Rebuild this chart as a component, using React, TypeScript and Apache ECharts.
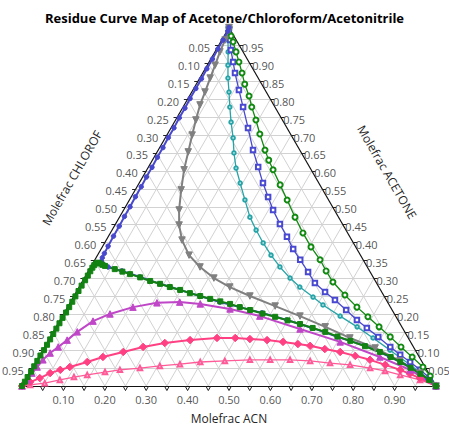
import React, { useEffect, useRef } from "react";
import * as echarts from "echarts";

// ---- tick values ----
const STEP_VALUES = [0.05, 0.1, 0.15, 0.2, 0.25, 0.3, 0.35, 0.4, 0.45, 0.5, 0.55, 0.6, 0.65, 0.7, 0.75, 0.8, 0.85, 0.9, 0.95];
const BOTTOM_LABELS = [0.1, 0.2, 0.3, 0.4, 0.5, 0.6, 0.7, 0.8, 0.9];
const LEFT_LABELS = STEP_VALUES; // chloroform
const RIGHT_LABELS = STEP_VALUES; // acetone

// ---- residue curves: [x ACN, x ACETONE] (chloroform = 1 - both) ----
const blueEdge = [
  [0.0, 1.0], [0.002, 0.99], [0.003, 0.965], [0.003, 0.94], [0.004, 0.912], [0.004, 0.885], [0.005, 0.857], [0.005, 0.83],
  [0.005, 0.802], [0.006, 0.775], [0.006, 0.748], [0.007, 0.72], [0.007, 0.693], [0.008, 0.665], [0.008, 0.638],
  [0.009, 0.61], [0.009, 0.583], [0.01, 0.556], [0.01, 0.528], [0.011, 0.5], [0.011, 0.473], [0.012, 0.446],
  [0.012, 0.418], [0.013, 0.39], [0.014, 0.37], [0.015, 0.358], [0.018, 0.348], [0.025, 0.34], [0.033, 0.336],
];
const blueSeparatrix = [
  [0.042, 0.332], [0.081, 0.321], [0.133, 0.304], [0.191, 0.285], [0.248, 0.268], [0.304, 0.251], [0.361, 0.234],
  [0.416, 0.22], [0.478, 0.204], [0.548, 0.184], [0.62, 0.162], [0.693, 0.137], [0.773, 0.112], [0.848, 0.081],
  [0.911, 0.053], [0.971, 0.0195], [1.0, 0.0],
];
const greenEdge = [
  [0.0, 0.0], [0.001, 0.012], [0.001, 0.025], [0.002, 0.04], [0.002, 0.055], [0.002, 0.07], [0.002, 0.085], [0.003, 0.1],
  [0.003, 0.115], [0.003, 0.13], [0.003, 0.145], [0.003, 0.16], [0.003, 0.175], [0.003, 0.19], [0.004, 0.205],
  [0.004, 0.22], [0.004, 0.235], [0.004, 0.25], [0.004, 0.265], [0.004, 0.28], [0.005, 0.295], [0.005, 0.308],
  [0.005, 0.32], [0.005, 0.33], [0.006, 0.337], [0.008, 0.342], [0.012, 0.344], [0.018, 0.342], [0.025, 0.338],
];
const greenSeparatrix = [
  [0.033, 0.335], [0.061, 0.326], [0.083, 0.319], [0.105, 0.312], [0.134, 0.303], [0.163, 0.293], [0.191, 0.285],
  [0.219, 0.276], [0.248, 0.268], [0.276, 0.259], [0.305, 0.251], [0.333, 0.243], [0.361, 0.236], [0.388, 0.229],
  [0.416, 0.22], [0.445, 0.212], [0.48, 0.202], [0.515, 0.193], [0.55, 0.183], [0.585, 0.173], [0.621, 0.162],
  [0.657, 0.151], [0.693, 0.138], [0.73, 0.126], [0.773, 0.111], [0.817, 0.095], [0.85, 0.081], [0.88, 0.067],
  [0.913, 0.051], [0.945, 0.034], [0.975, 0.017], [1.0, 0.0],
];
const grayCurve = [
  [0.0, 1.0], [0.004, 0.993], [0.008, 0.965], [0.012, 0.932], [0.019, 0.895], [0.025, 0.859], [0.032, 0.82],
  [0.038, 0.784], [0.049, 0.742], [0.061, 0.7], [0.075, 0.653], [0.09, 0.603], [0.111, 0.547], [0.134, 0.491],
  [0.155, 0.449], [0.183, 0.407], [0.221, 0.365], [0.264, 0.332], [0.313, 0.301], [0.364, 0.276], [0.425, 0.251],
  [0.5, 0.223], [0.574, 0.195], [0.65, 0.165], [0.725, 0.134], [0.8, 0.106], [0.878, 0.07], [0.943, 0.036], [1.0, 0.0],
];
const magentaCurve = [
  [0.0, 0.0], [0.004, 0.017], [0.006, 0.036], [0.01, 0.053], [0.014, 0.073], [0.022, 0.092], [0.033, 0.109],
  [0.045, 0.128], [0.058, 0.151], [0.081, 0.181], [0.112, 0.201], [0.158, 0.22], [0.21, 0.232], [0.264, 0.234],
  [0.316, 0.229], [0.395, 0.215], [0.477, 0.195], [0.592, 0.159], [0.707, 0.123], [0.824, 0.081], [0.915, 0.045],
  [1.0, 0.0],
];
const pinkDiamondCurve = [
  [0.0, 0.0], [0.014, 0.011], [0.032, 0.022], [0.05, 0.036], [0.07, 0.045], [0.089, 0.053], [0.124, 0.067],
  [0.155, 0.081], [0.197, 0.095], [0.238, 0.109], [0.285, 0.12], [0.342, 0.128], [0.404, 0.134], [0.448, 0.134],
  [0.485, 0.131], [0.528, 0.128], [0.569, 0.123], [0.608, 0.117], [0.64, 0.112], [0.68, 0.103], [0.721, 0.095],
  [0.763, 0.084], [0.804, 0.073], [0.848, 0.059], [0.891, 0.045], [0.92, 0.034], [0.95, 0.022], [1.0, 0.0],
];
const pinkTriangleCurve = [
  [0.0, 0.0], [0.018, 0.003], [0.051, 0.008], [0.083, 0.017], [0.113, 0.025], [0.142, 0.031], [0.181, 0.039],
  [0.214, 0.045], [0.26, 0.05], [0.305, 0.056], [0.351, 0.061], [0.397, 0.067], [0.455, 0.07], [0.514, 0.073],
  [0.563, 0.073], [0.611, 0.073], [0.661, 0.07], [0.712, 0.064], [0.763, 0.059], [0.816, 0.05], [0.856, 0.042],
  [0.898, 0.031], [0.953, 0.017], [1.0, 0.0],
];
const tealCurve = [
  [0.0, 1.0], [0.004, 0.993], [0.015, 0.965], [0.032, 0.932], [0.05, 0.895], [0.068, 0.859], [0.09, 0.82],
  [0.113, 0.778], [0.137, 0.736], [0.164, 0.692], [0.187, 0.65], [0.213, 0.608], [0.244, 0.566], [0.279, 0.519],
  [0.315, 0.471], [0.348, 0.435], [0.383, 0.399], [0.419, 0.365], [0.457, 0.332], [0.497, 0.301], [0.533, 0.276],
  [0.579, 0.248], [0.614, 0.226], [0.671, 0.195], [0.727, 0.165], [0.781, 0.134], [0.839, 0.1], [0.908, 0.059],
  [0.977, 0.017], [1.0, 0.0],
];
const blueSquareCurve = [
  [0.0, 1.0], [0.02, 0.965], [0.036, 0.937], [0.058, 0.904], [0.078, 0.873], [0.111, 0.826], [0.145, 0.778],
  [0.186, 0.72], [0.229, 0.658], [0.265, 0.611], [0.299, 0.566], [0.331, 0.527], [0.361, 0.491], [0.397, 0.452],
  [0.432, 0.416], [0.464, 0.382], [0.496, 0.352], [0.532, 0.318], [0.564, 0.287], [0.601, 0.262], [0.636, 0.24],
  [0.677, 0.212], [0.717, 0.184], [0.752, 0.162], [0.792, 0.137], [0.835, 0.109], [0.87, 0.087], [0.904, 0.067],
  [0.939, 0.045], [0.974, 0.022], [1.0, 0.0],
];
const greenCircleCurve = [
  [0.0, 1.0], [0.017, 0.976], [0.03, 0.96], [0.051, 0.932], [0.072, 0.904], [0.095, 0.873], [0.117, 0.842],
  [0.144, 0.809], [0.166, 0.778], [0.194, 0.742], [0.223, 0.703], [0.258, 0.658], [0.281, 0.63], [0.305, 0.603],
  [0.343, 0.561], [0.381, 0.519], [0.424, 0.471], [0.465, 0.427], [0.504, 0.388], [0.544, 0.352], [0.574, 0.321],
  [0.606, 0.29], [0.653, 0.254], [0.699, 0.22], [0.739, 0.193], [0.78, 0.165], [0.821, 0.137], [0.861, 0.109],
  [0.902, 0.081], [0.942, 0.053], [0.972, 0.028], [1.0, 0.0],
];

const S3 = Math.sqrt(3) / 2;
const toXY = (p: number[]) => [p[0] + p[1] / 2, p[1] * S3];
const FONT = "'Open Sans', 'Noto Sans', sans-serif";

function curve(name: string, data: number[][], color: string, symbol: string, size: number, width: number, extra: any = {}) {
  return {
    type: "line",
    name,
    data: data.map(toXY),
    symbol,
    symbolSize: size,
    showAllSymbol: true,
    clip: false,
    lineStyle: { color, width },
    itemStyle: { color, borderColor: color, borderWidth: 1 },
    emphasis: { disabled: true },
    z: 5,
    ...extra,
  };
}

export default function App() {
  const ref = useRef<HTMLDivElement>(null);
  useEffect(() => {
    document.body.style.margin = "0";
    const chart = echarts.init(ref.current!, null, { renderer: "svg" });

    const gridSegs: number[][][] = [];
    STEP_VALUES.forEach((v) => {
      gridSegs.push([toXY([0, v]), toXY([1 - v, v])]);
      gridSegs.push([toXY([v, 0]), toXY([v, 1 - v])]);
      gridSegs.push([toXY([1 - v, 0]), toXY([0, 1 - v])]);
    });
    const edgeSegs = [
      [toXY([0, 0]), toXY([1, 0])],
      [toXY([0, 0]), toXY([0, 1])],
      [toXY([1, 0]), toXY([0, 1])],
    ];
    const tickSegs: number[][][] = [];
    const d = 0.006;
    STEP_VALUES.forEach((v) => {
      const b = toXY([v, 0]);
      tickSegs.push([[b[0] - d, b[1]], [b[0], b[1] - 0.011]]);
      tickSegs.push([[b[0] + d, b[1]], [b[0], b[1] - 0.011]]);
      const l = toXY([0, 1 - v]);
      tickSegs.push([l, [l[0] - 0.009, l[1]]]);
      const r = toXY([1 - v, v]);
      tickSegs.push([r, [r[0] + 0.009, r[1]]]);
    });

    const labelStyle = { color: "#262626", fontSize: 11, fontFamily: FONT };

    chart.setOption({
      animation: false,
      backgroundColor: "#ffffff",
      title: {
        text: "Residue Curve Map of Acetone/Chloroform/Acetonitrile",
        left: "center",
        top: 6,
        textStyle: { fontSize: 13, fontWeight: "bold", color: "#000", fontFamily: FONT },
      },
      grid: { left: 22, top: 27.5, width: 414, height: 358.5 },
      xAxis: { type: "value", min: 0, max: 1, show: false },
      yAxis: { type: "value", min: 0, max: S3, show: false },
      graphic: [
        { type: "text", x: 229, y: 418, style: { text: "Molefrac ACN", fill: "#262626", font: `12px ${FONT}`, textAlign: "center", textVerticalAlign: "middle" } },
        { type: "text", x: 72, y: 178, rotation: Math.PI / 3, style: { text: "Molefrac CHLOROF", fill: "#262626", font: `12px ${FONT}`, textAlign: "center", textVerticalAlign: "middle" } },
        { type: "text", x: 387, y: 172, rotation: -Math.PI / 3, style: { text: "Molefrac ACETONE", fill: "#262626", font: `12px ${FONT}`, textAlign: "center", textVerticalAlign: "middle" } },
      ],
      series: [
        {
          type: "lines", coordinateSystem: "cartesian2d", silent: true, clip: false, z: 1,
          lineStyle: { color: "#d2d2d2", width: 1, opacity: 1 },
          data: gridSegs.map((c) => ({ coords: c })),
        },
        {
          type: "lines", coordinateSystem: "cartesian2d", silent: true, clip: false, z: 2,
          lineStyle: { color: "#111", width: 1.2, opacity: 1 },
          data: edgeSegs.map((c) => ({ coords: c })),
        },
        {
          type: "lines", coordinateSystem: "cartesian2d", silent: true, clip: false, z: 2,
          lineStyle: { color: "#222", width: 1, opacity: 1 },
          data: tickSegs.map((c) => ({ coords: c })),
        },
        {
          type: "scatter", silent: true, clip: false, symbolSize: 1, itemStyle: { color: "rgba(0,0,0,0)" },
          label: { show: true, position: "bottom", distance: 7, formatter: "{b}", ...labelStyle },
          data: BOTTOM_LABELS.map((v) => ({ name: v.toFixed(2), value: toXY([v, 0]) })),
        },
        {
          type: "scatter", silent: true, clip: false, symbolSize: 1, itemStyle: { color: "rgba(0,0,0,0)" },
          label: { show: true, position: "left", distance: 8, offset: [0, 2], formatter: "{b}", ...labelStyle },
          data: LEFT_LABELS.map((v) => ({ name: v.toFixed(2), value: toXY([0, 1 - v]) })),
        },
        {
          type: "scatter", silent: true, clip: false, symbolSize: 1, itemStyle: { color: "rgba(0,0,0,0)" },
          label: { show: true, position: "right", distance: 2, offset: [0, 2], formatter: "{b}", ...labelStyle },
          data: RIGHT_LABELS.map((v) => ({ name: v.toFixed(2), value: toXY([1 - v, v]) })),
        },
        curve("pinkTri", pinkTriangleCurve, "#ff5a98", "emptyTriangle", 4.5, 1.3),
        curve("pinkDiamond", pinkDiamondCurve, "#ff4083", "diamond", 7.5, 2),
        curve("magenta", magentaCurve, "#c046c8", "triangle", 6.5, 2),
        curve("teal", tealCurve, "#26a4a8", "emptyCircle", 3.5, 1.3),
        curve("blueSquare", blueSquareCurve, "#4848d0", "emptyRect", 4.5, 1.3),
        curve("greenCircle", greenCircleCurve, "#128a12", "emptyCircle", 5, 1.3),
        curve("gray", grayCurve, "#808080", "triangle", 6.5, 2, { symbolRotate: 180 }),
        curve("blue", blueEdge.concat(blueSeparatrix), "#4848cc", "circle", 4.5, 2),
        curve("green", greenEdge.concat(greenSeparatrix), "#128212", "rect", 5, 2),
      ],
    });
    return () => chart.dispose();
  }, []);
  return <div ref={ref} style={{ width: 449, height: 426 }} />;
}
